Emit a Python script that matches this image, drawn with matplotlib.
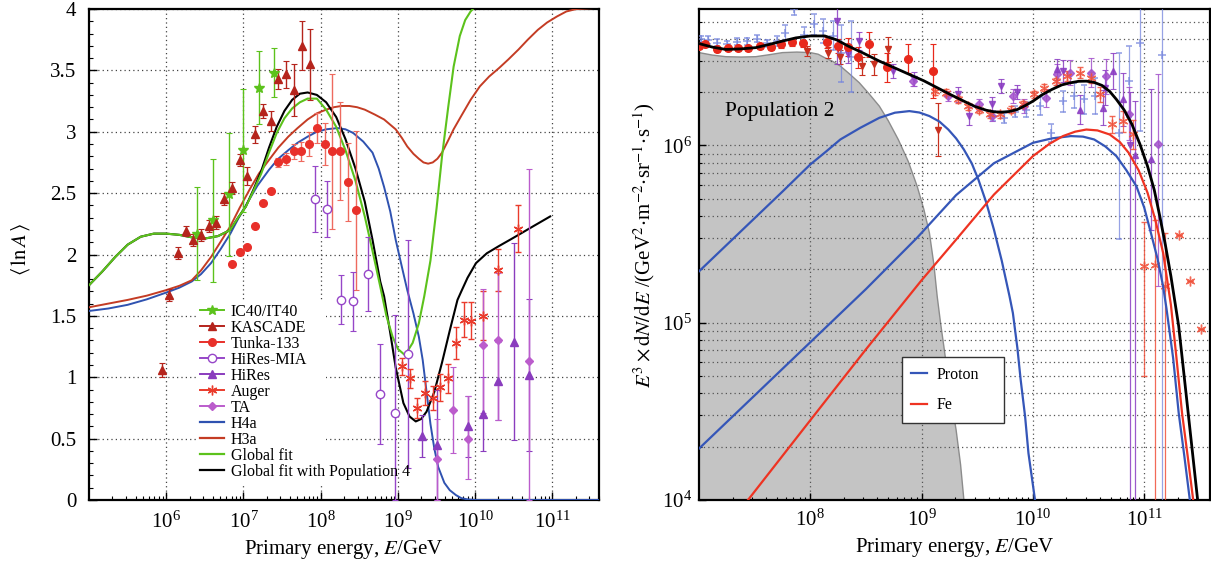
import numpy as np
import matplotlib
matplotlib.use('Agg')
import matplotlib.pyplot as plt
from matplotlib.lines import Line2D
from matplotlib.patches import Rectangle
from matplotlib.ticker import LogLocator, MultipleLocator, NullFormatter

plt.rcParams['font.family'] = ['Liberation Serif', 'DejaVu Serif']
plt.rcParams['mathtext.fontset'] = 'stix'

# ---------------- left panel: <ln A> vs log10(E/GeV) ----------------
ic_x = [6.40, 6.60, 6.81, 7.00, 7.20, 7.40]
ic_y = [2.17, 2.28, 2.49, 2.85, 3.36, 3.48]
ic_e = [0.38, 0.50, 0.50, 0.50, 0.30, 0.20]

kas_x = [5.95, 6.04, 6.15, 6.25, 6.35, 6.45, 6.55, 6.65, 6.75, 6.85, 6.95, 7.05, 7.15, 7.25, 7.35, 7.45, 7.55, 7.65, 7.76, 7.86]
kas_y = [1.06, 1.67, 2.01, 2.19, 2.12, 2.16, 2.23, 2.26, 2.45, 2.54, 2.77, 2.64, 2.98, 3.17, 3.09, 3.43, 3.47, 3.34, 3.70, 3.55]
kas_e = [0.06, 0.05, 0.05, 0.04, 0.05, 0.05, 0.05, 0.05, 0.05, 0.05, 0.05, 0.07, 0.07, 0.06, 0.08, 0.08, 0.11, 0.21, 0.20, 0.29]

tunka_x = [6.85, 6.95, 7.05, 7.15, 7.25, 7.35, 7.45, 7.55, 7.65, 7.75, 7.85, 7.95, 8.05, 8.15, 8.25, 8.35, 8.45]
tunka_y = [1.92, 2.02, 2.06, 2.23, 2.42, 2.52, 2.75, 2.78, 2.84, 2.84, 2.90, 3.03, 2.90, 2.84, 2.84, 2.59, 2.36]
tunka_e = [0.01, 0.01, 0.01, 0.01, 0.01, 0.01, 0.04, 0.05, 0.06, 0.08, 0.10, 0.12, 0.17, 0.63, 0.40, 0.32, 0.65]

mia_x = [7.93, 8.08, 8.26, 8.42, 8.61, 8.77, 8.96, 9.13]
mia_y = [2.45, 2.37, 1.63, 1.62, 1.84, 0.86, 0.71, 1.19]
mia_lo = [0.27, 0.23, 0.20, 0.24, 0.30, 0.40, 0.71, 0.93]
mia_hi = [0.27, 0.23, 0.20, 0.24, 0.30, 0.41, 0.80, 0.93]

hires_x = [9.31, 9.51, 9.91, 10.10, 10.30, 10.50, 10.70]
hires_y = [0.52, 0.45, 0.60, 0.70, 0.97, 1.29, 1.02]
hires_e = [0.17, 0.45, 0.25, 0.30, 0.32, 0.80, 0.62]

auger_x = [9.05, 9.15, 9.25, 9.35, 9.45, 9.55, 9.65, 9.75, 9.85, 9.95, 10.10, 10.30, 10.55]
auger_y = [1.09, 0.99, 0.75, 0.87, 0.83, 0.92, 0.99, 1.28, 1.47, 1.46, 1.50, 1.875, 2.21]
auger_e = [0.07, 0.08, 0.08, 0.10, 0.10, 0.11, 0.12, 0.13, 0.14, 0.15, 0.20, 0.17, 0.19]

ta_x = [9.51, 9.71, 9.91, 10.10, 10.30, 10.70]
ta_y = [0.33, 0.73, 0.50, 1.26, 1.30, 1.13]
ta_lo = [0.33, 0.35, 0.33, 0.55, 0.65, 1.13]
ta_hi = [0.33, 0.35, 0.35, 0.46, 0.55, 1.57]

h4a_x = [5.0, 5.25, 5.5, 5.75, 6.0, 6.17, 6.33, 6.45, 6.58, 6.7, 6.83, 6.93, 7.03, 7.18, 7.33, 7.45, 7.58, 7.7, 7.83, 7.95,
         8.07, 8.22, 8.32, 8.42, 8.55, 8.67, 8.75, 8.82, 8.9, 8.97, 9.05, 9.12, 9.2, 9.27, 9.32, 9.37, 9.42, 9.47, 9.52,
         9.6, 9.67, 9.75, 9.82, 9.9, 10.0, 11.6]
h4a_y = [1.54, 1.56, 1.59, 1.635, 1.69, 1.73, 1.78, 1.84, 1.93, 2.04, 2.17, 2.29, 2.40, 2.56, 2.69, 2.78, 2.85, 2.91, 2.96, 3.0,
         3.02, 3.03, 3.02, 2.99, 2.92, 2.83, 2.70, 2.55, 2.35, 2.12, 1.90, 1.71, 1.52, 1.33, 1.14, 0.88, 0.62, 0.42, 0.27,
         0.14, 0.08, 0.04, 0.015, 0.005, 0.0, 0.0]

h3a_x = [5.0, 5.25, 5.5, 5.75, 6.0, 6.17, 6.33, 6.45, 6.58, 6.7, 6.83, 6.95, 7.08, 7.2, 7.33, 7.45, 7.58, 7.7, 7.83, 7.95,
         8.07, 8.17, 8.27, 8.37, 8.47, 8.57, 8.7, 8.82, 8.97, 9.05, 9.12, 9.2, 9.27, 9.33, 9.39, 9.45, 9.51, 9.57, 9.65,
         9.72, 9.82, 9.94, 10.06, 10.18, 10.31, 10.43, 10.56, 10.68, 10.81, 10.93, 11.06, 11.18, 11.31, 11.6]
h3a_y = [1.57, 1.60, 1.63, 1.665, 1.71, 1.745, 1.79, 1.87, 1.98, 2.10, 2.23, 2.38, 2.53, 2.66, 2.77, 2.87, 2.96, 3.03, 3.10, 3.15,
         3.18, 3.20, 3.21, 3.21, 3.20, 3.18, 3.14, 3.10, 3.02, 2.95, 2.88, 2.82, 2.78, 2.75, 2.74, 2.75, 2.78, 2.83, 2.93,
         3.02, 3.13, 3.26, 3.37, 3.45, 3.52, 3.59, 3.67, 3.75, 3.83, 3.89, 3.94, 3.98, 4.0, 4.01]

gfit_x = [5.0, 5.17, 5.34, 5.5, 5.67, 5.84, 6.0, 6.17, 6.33, 6.5, 6.67, 6.83, 6.93, 7.03, 7.13, 7.23, 7.33, 7.43, 7.53, 7.63,
          7.73, 7.83, 7.95, 8.07, 8.2, 8.32, 8.45, 8.57, 8.67, 8.77, 8.85, 8.93, 9.0, 9.09, 9.19, 9.27, 9.34, 9.42, 9.5,
          9.57, 9.65, 9.72, 9.8, 9.87, 9.94, 10.0]
gfit_y = [1.75, 1.86, 1.98, 2.08, 2.145, 2.17, 2.17, 2.16, 2.14, 2.13, 2.15, 2.20, 2.30, 2.39, 2.52, 2.66, 2.83, 2.99, 3.11, 3.19,
          3.24, 3.27, 3.27, 3.18, 3.04, 2.85, 2.60, 2.31, 2.03, 1.74, 1.50, 1.33, 1.23, 1.18, 1.28, 1.44, 1.66, 1.95, 2.38,
          2.80, 3.20, 3.53, 3.78, 3.91, 3.98, 4.02]

gpop4_x = [5.0, 5.17, 5.34, 5.5, 5.67, 5.84, 6.0, 6.17, 6.33, 6.5, 6.67, 6.83, 6.93, 7.03, 7.13, 7.23, 7.33, 7.43, 7.53, 7.63,
           7.73, 7.83, 7.95, 8.07, 8.2, 8.32, 8.45, 8.57, 8.67, 8.77, 8.82, 8.9, 8.97, 9.07, 9.15, 9.23, 9.3, 9.37, 9.47,
           9.57, 9.67, 9.77, 9.82, 9.9, 10.01, 10.15, 10.31, 10.45, 10.56, 10.75, 10.97]
gpop4_y = [1.75, 1.86, 1.98, 2.08, 2.145, 2.17, 2.17, 2.16, 2.14, 2.13, 2.15, 2.20, 2.30, 2.39, 2.53, 2.68, 2.87, 3.04, 3.17, 3.26,
           3.31, 3.32, 3.30, 3.24, 3.12, 2.94, 2.70, 2.43, 2.12, 1.78, 1.66, 1.36, 1.08, 0.79, 0.68, 0.64, 0.66, 0.72, 0.88,
           1.12, 1.38, 1.63, 1.70, 1.81, 1.93, 2.01, 2.07, 2.12, 2.16, 2.23, 2.31]

# ---------------- right panel: log10(E^3 dN/dE) vs log10(E/GeV) ----------------
tot_x = [7.0, 7.12, 7.24, 7.38, 7.51, 7.63, 7.75, 7.87, 8.0, 8.13, 8.24, 8.34, 8.48, 8.62, 8.75, 8.89, 9.02, 9.14, 9.26,
         9.38, 9.48, 9.58, 9.65, 9.72, 9.79, 9.86, 9.93, 10.0, 10.08, 10.17, 10.26, 10.34, 10.41, 10.48, 10.55, 10.62,
         10.69, 10.75, 10.82, 10.89, 10.96, 11.03, 11.09, 11.14, 11.19, 11.24, 11.31, 11.39, 11.48, 11.5]
tot_y = [6.575, 6.555, 6.542, 6.545, 6.552, 6.57, 6.589, 6.607, 6.618, 6.618, 6.595, 6.561, 6.52, 6.476, 6.44, 6.401, 6.365,
         6.326, 6.287, 6.25, 6.22, 6.199, 6.19, 6.188, 6.192, 6.203, 6.225, 6.25, 6.285, 6.316, 6.342, 6.354, 6.362, 6.363,
         6.356, 6.339, 6.305, 6.26, 6.2, 6.119, 6.01, 5.883, 5.75, 5.601, 5.44, 5.262, 4.98, 4.52, 4.0, 3.9]

pop2_x = [7.0, 7.12, 7.24, 7.38, 7.51, 7.63, 7.75, 7.88, 8.0, 8.07, 8.13, 8.2, 8.27, 8.35, 8.44, 8.53, 8.62, 8.7, 8.79,
          8.88, 8.96, 9.02, 9.07, 9.11, 9.14, 9.17, 9.2, 9.25, 9.31, 9.35, 9.38]
pop2_y = [6.524, 6.51, 6.501, 6.499, 6.501, 6.512, 6.524, 6.527, 6.524, 6.515, 6.495, 6.475, 6.448, 6.405, 6.354, 6.29,
          6.222, 6.14, 6.034, 5.91, 5.77, 5.64, 5.507, 5.33, 5.149, 5.0, 4.866, 4.63, 4.395, 4.2, 4.0]

p1_x = [7.0, 7.25, 7.5, 7.75, 8.0, 8.14, 8.27, 8.45, 8.62, 8.76, 8.89, 8.98, 9.07, 9.16, 9.24, 9.31, 9.38, 9.45, 9.51,
        9.58, 9.65, 9.72, 9.79, 9.82, 9.86, 9.89, 9.93, 9.96, 10.01, 10.03]
p1_y = [5.29, 5.44, 5.59, 5.74, 5.893, 5.965, 6.034, 6.10, 6.156, 6.185, 6.194, 6.186, 6.166, 6.135, 6.09, 6.04, 5.977,
        5.90, 5.808, 5.68, 5.525, 5.35, 5.149, 5.055, 4.86, 4.678, 4.47, 4.264, 4.04, 3.95]

p2_x = [7.0, 7.5, 8.0, 8.5, 8.96, 9.31, 9.65, 10.0, 10.17, 10.34, 10.45, 10.55, 10.65, 10.75, 10.84, 10.93, 11.0, 11.06,
        11.12, 11.17, 11.2, 11.26, 11.31, 11.36, 11.41, 11.43]
p2_y = [4.29, 4.59, 4.89, 5.19, 5.48, 5.72, 5.90, 6.015, 6.04, 6.053, 6.05, 6.034, 5.995, 5.94, 5.86, 5.77, 5.65, 5.507,
        5.36, 5.205, 5.08, 4.80, 4.49, 4.25, 4.0, 3.9]

fe_x = [7.44, 8.0, 8.5, 9.0, 9.31, 9.65, 10.0, 10.15, 10.27, 10.38, 10.48, 10.58, 10.69, 10.78, 10.86, 10.95, 11.03, 11.1,
        11.17, 11.24, 11.29, 11.34, 11.39, 11.44, 11.46]
fe_y = [4.0, 4.45, 4.85, 5.24, 5.469, 5.723, 5.94, 6.01, 6.053, 6.078, 6.09, 6.085, 6.062, 6.02, 5.959, 5.86, 5.733, 5.58,
        5.394, 5.10, 4.80, 4.49, 4.25, 4.0, 3.9]

# data sets: log10 E, log10 flux, error down / up in dex
bx_x = [7.02, 7.08, 7.16, 7.25, 7.34, 7.43, 7.52, 7.61, 7.70, 7.77, 7.85, 7.94, 8.03, 8.11, 8.20, 8.28, 8.37,
        9.64, 9.74, 9.84, 9.94, 10.06, 10.16, 10.27, 10.37, 10.46, 10.56, 10.77, 10.86, 10.96, 11.16]
bx_y = [6.60, 6.595, 6.58, 6.571, 6.585, 6.589, 6.603, 6.576, 6.59, 6.637, 6.768, 6.621, 6.684, 6.646, 6.62, 6.52, 6.50,
        6.166, 6.156, 6.19, 6.203, 6.222, 6.072, 6.25, 6.28, 6.26, 6.279, 6.072, 6.363, 6.58, 6.508]
bx_lo = [0.02, 0.02, 0.02, 0.02, 0.02, 0.02, 0.02, 0.02, 0.03, 0.04, 0.03, 0.05, 0.06, 0.07, 0.08, 0.16, 0.2,
         0.03, 0.03, 0.03, 0.04, 0.05, 0.05, 0.06, 0.07, 0.08, 0.1, 0.6, 0.2, 0.5, 3.0]
bx_hi = [0.02, 0.02, 0.02, 0.02, 0.02, 0.02, 0.02, 0.02, 0.03, 0.04, 0.03, 0.05, 0.06, 0.07, 0.08, 0.16, 0.2,
         0.03, 0.03, 0.03, 0.04, 0.05, 0.05, 0.06, 0.07, 0.08, 0.1, 0.45, 0.2, 0.2, 0.3]

rc_x = [7.0, 7.05, 7.16, 7.26, 7.35, 7.44, 7.55, 7.65, 7.74, 7.84, 7.93, 8.15, 8.25, 8.34, 8.43, 8.53, 8.69, 8.88, 9.10]
rc_y = [6.56, 6.571, 6.542, 6.548, 6.548, 6.548, 6.559, 6.554, 6.571, 6.582, 6.576, 6.582, 6.559, 6.554, 6.497, 6.571,
        6.44, 6.49, 6.42]
rc_e = [0.015, 0.015, 0.015, 0.015, 0.015, 0.015, 0.015, 0.015, 0.02, 0.02, 0.02, 0.03, 0.04, 0.05, 0.06, 0.07, 0.08,
        0.08, 0.15]

rv_x = [7.97, 8.16, 8.27, 8.46, 8.57, 8.70, 9.15]
rv_y = [6.533, 6.524, 6.50, 6.448, 6.458, 6.542, 6.09]
rv_e = [0.03, 0.03, 0.04, 0.05, 0.06, 0.07, 0.15]

pv_x = [8.24, 8.34, 8.44, 8.74, 8.93, 9.33, 9.43, 9.63, 9.71, 9.86, 10.27, 10.65, 10.87]
pv_y = [6.70, 6.514, 6.589, 6.42, 6.373, 6.288, 6.166, 6.232, 6.335, 6.30, 6.42, 6.326, 6.0]
pv_lo = [0.24, 0.05, 0.05, 0.04, 0.04, 0.04, 0.05, 0.04, 0.04, 0.04, 0.06, 0.1, 3.0]
pv_hi = [0.08, 0.05, 0.05, 0.04, 0.04, 0.04, 0.05, 0.04, 0.04, 0.04, 0.06, 0.1, 0.3]

pd_x = [8.92, 9.24, 9.52, 9.63, 9.82, 9.92, 10.12, 10.22, 10.33, 10.52, 10.66, 10.86, 11.12]
pd_y = [6.363, 6.279, 6.232, 6.166, 6.279, 6.222, 6.269, 6.401, 6.411, 6.411, 6.39, 6.18, 6.006]
pd_lo = [0.03, 0.03, 0.03, 0.03, 0.04, 0.04, 0.05, 0.06, 0.07, 0.08, 0.1, 0.15, 0.8]
pd_hi = [0.03, 0.03, 0.03, 0.03, 0.04, 0.04, 0.05, 0.06, 0.07, 0.08, 0.1, 0.15, 0.4]

pu_x = [10.22, 10.42, 10.63, 10.72, 10.81, 10.92, 11.06]
pu_y = [6.43, 6.203, 6.213, 6.42, 6.26, 5.949, 5.921]
pu_lo = [0.06, 0.08, 0.1, 0.1, 0.15, 3.0, 0.4]
pu_hi = [0.06, 0.08, 0.1, 0.1, 0.15, 0.3, 0.4]

au_x = [9.12, 9.22, 9.33, 9.42, 9.52, 9.61, 9.70, 9.80, 9.91, 10.01, 10.10, 10.21, 10.31, 10.42, 10.52, 10.60, 10.71,
        10.81, 10.90, 11.00, 11.10, 11.19, 11.31, 11.41, 11.51]
au_y = [6.307, 6.298, 6.26, 6.222, 6.203, 6.175, 6.175, 6.203, 6.232, 6.288, 6.326, 6.363, 6.392, 6.411, 6.383, 6.288,
        6.119, 6.137, 6.062, 5.318, 5.328, 5.209, 5.497, 5.233, 4.964]
au_lo = [0.02, 0.02, 0.02, 0.02, 0.02, 0.02, 0.02, 0.02, 0.02, 0.02, 0.02, 0.02, 0.03, 0.03, 0.03, 0.04, 0.05, 0.06,
         0.08, 0.62, 3.0, 3.0, 0.0, 0.0, 0.0]
au_hi = [0.02, 0.02, 0.02, 0.02, 0.02, 0.02, 0.02, 0.02, 0.02, 0.02, 0.02, 0.02, 0.03, 0.03, 0.03, 0.04, 0.05, 0.06,
         0.08, 0.25, 0.25, 0.3, 0.0, 0.0, 0.0]

GREEN = '#5cc21c'
KAS = '#b5241c'
TUNKA = '#e8302a'
MIA = '#9646c8'
HIRES = '#8a3cbe'
AUGER = '#ea3b2c'
TA = '#bb5ccc'
H4A = '#2f52b0'
H3A = '#c43c24'
ASTER = (6, 2, 0)


def ebar(ax, x, y, lo, hi, **kw):
    ax.errorbar(x, y, yerr=[np.asarray(lo), np.asarray(hi)], ls='none', capsize=2, elinewidth=1.0, capthick=0.8, **kw)


def lbar(ax, lx, ly, lo, hi, **kw):
    E = 10 ** np.asarray(lx); F = 10 ** np.asarray(ly)
    ax.errorbar(E, F, yerr=[F - F * 10 ** (-np.asarray(lo)), F * 10 ** np.asarray(hi) - F], ls='none',
                capsize=2, elinewidth=0.9, capthick=0.8, **kw)


fig = plt.figure(figsize=(12.11, 5.69), dpi=100)
ax = fig.add_axes([89 / 1211, 1 - 500 / 569, 510 / 1211, 491 / 569])
ax2 = fig.add_axes([699 / 1211, 1 - 500 / 569, 511 / 1211, 491 / 569])

E = lambda v: 10 ** np.asarray(v)

# ---- left
ax.plot(E(h4a_x), h4a_y, color=H4A, lw=1.4, zorder=3)
ax.plot(E(h3a_x), h3a_y, color=H3A, lw=1.4, zorder=3)
ax.plot(E(gpop4_x), gpop4_y, color='black', lw=1.5, zorder=3)
ax.plot(E(gfit_x), gfit_y, color=GREEN, lw=1.5, zorder=3)

ebar(ax, E(ic_x), ic_y, ic_e, ic_e, marker='*', color=GREEN, ms=7, zorder=4)
ebar(ax, E(kas_x), kas_y, kas_e, kas_e, marker='^', color=KAS, ms=5.5, zorder=4)
ebar(ax, E(tunka_x), tunka_y, tunka_e, tunka_e, marker='o', color=TUNKA, ms=5.5, ecolor='#ee6a5f', zorder=4)
ebar(ax, E(mia_x), mia_y, mia_lo, mia_hi, marker='o', color=MIA, mfc='white', ms=6, zorder=4)
ebar(ax, E(hires_x), hires_y, hires_e, hires_e, marker='^', color=HIRES, ms=5.5, zorder=4)
ebar(ax, E(auger_x), auger_y, auger_e, auger_e, marker=ASTER, color=AUGER, ms=7, mew=1.0, zorder=4)
ebar(ax, E(ta_x), ta_y, ta_lo, ta_hi, marker='D', color=TA, ms=4.5, zorder=4)

ax.set_xscale('log')
ax.set_xlim(1e5, 4e11)
ax.set_ylim(0, 4)
ax.set_xticks([1e6, 1e7, 1e8, 1e9, 1e10, 1e11])
ax.xaxis.set_minor_locator(LogLocator(base=10, subs=np.arange(2, 10), numticks=20))
ax.xaxis.set_minor_formatter(NullFormatter())
ax.set_yticks([0, 0.5, 1, 1.5, 2, 2.5, 3, 3.5, 4])
ax.set_yticklabels(['0', '0.5', '1', '1.5', '2', '2.5', '3', '3.5', '4'])
ax.yaxis.set_minor_locator(MultipleLocator(0.1))
ax.tick_params(which='both', direction='in', labelsize=15)
ax.tick_params(which='major', length=6, width=1.0)
ax.tick_params(which='minor', length=3, width=0.8)
ax.tick_params(axis='y', pad=9)
ax.tick_params(axis='x', pad=8)
ax.grid(True, which='major', ls=(0, (1, 2.5)), color='#444444', lw=0.9)
for s in ax.spines.values():
    s.set_linewidth(1.6)
ax.set_xlabel(r'Primary energy, $E$/GeV', fontsize=15)
ax.set_ylabel(r'$\langle\,\ln A\,\rangle$', fontsize=15)
ax.yaxis.set_label_coords(-0.112, 0.51)
ax.add_patch(Rectangle((0.214, 0.035), 0.25, 0.37, transform=ax.transAxes, facecolor='white',
                       edgecolor='none', zorder=2.5))
handles = [
    Line2D([], [], color=GREEN, marker='*', ms=7, lw=1.4),
    Line2D([], [], color=KAS, marker='^', ms=5.5, lw=1.4),
    Line2D([], [], color=TUNKA, marker='o', ms=5.5, lw=1.4),
    Line2D([], [], color=MIA, marker='o', mfc='white', ms=6, lw=1.4),
    Line2D([], [], color=HIRES, marker='^', ms=5.5, lw=1.4),
    Line2D([], [], color=AUGER, marker=ASTER, ms=7, lw=1.4),
    Line2D([], [], color=TA, marker='D', ms=4.5, lw=1.4),
    Line2D([], [], color=H4A, lw=1.6),
    Line2D([], [], color=H3A, lw=1.6),
    Line2D([], [], color=GREEN, lw=1.6),
    Line2D([], [], color='black', lw=1.6),
]
labels = ['IC40/IT40', 'KASCADE', 'Tunka-133', 'HiRes-MIA', 'HiRes', 'Auger', 'TA', 'H4a', 'H3a',
          'Global fit', 'Global fit with Population 4']
leg = ax.legend(handles, labels, loc='upper left', bbox_to_anchor=(0.218, 0.40), frameon=False, fontsize=11.5,
                labelspacing=0.0, handlelength=1.5, handletextpad=0.4, borderpad=0, borderaxespad=0)
leg.set_zorder(5)

# ---- right
ax2.fill_between(E(pop2_x), 1e3, E(pop2_y), facecolor='#c4c4c4', edgecolor='#8c8c8c', lw=1.0, zorder=1)
ax2.text(1.71e7, 10 ** 6.19, 'Population 2', fontsize=15.5, va='center', ha='left', zorder=2)

lbar(ax2, bx_x, bx_y, bx_lo, bx_hi, marker='+', color='#7585dd', ms=6, mew=1.2, alpha=0.75, zorder=3)
lbar(ax2, rv_x, rv_y, rv_e, rv_e, marker='v', color='#c8301f', ms=5, zorder=3)
lbar(ax2, pv_x, pv_y, pv_lo, pv_hi, marker='v', color='#8a3cc2', ms=5, alpha=0.85, zorder=3)
lbar(ax2, pd_x, pd_y, pd_lo, pd_hi, marker='D', color='#a352cc', ms=4.5, alpha=0.85, zorder=3)
lbar(ax2, pu_x, pu_y, pu_lo, pu_hi, marker='^', color='#8a3cc2', ms=5, alpha=0.85, zorder=3)
lbar(ax2, au_x, au_y, au_lo, au_hi, marker=ASTER, color='#f0503a', ms=7, mew=1.0, alpha=0.85, zorder=3)
lbar(ax2, rc_x, rc_y, rc_e, rc_e, marker='o', color='#e8291c', ms=5.5, zorder=3)

ax2.plot(E(p1_x), E(p1_y), color='#3556b8', lw=1.6, zorder=4)
ax2.plot(E(p2_x), E(p2_y), color='#3556b8', lw=1.6, zorder=4, label='Proton')
ax2.plot(E(fe_x), E(fe_y), color='#ee3322', lw=1.6, zorder=4, label='Fe')
ax2.plot(E(tot_x), E(tot_y), color='black', lw=2.0, zorder=5)

ax2.set_xscale('log')
ax2.set_yscale('log')
ax2.set_xlim(1e7, 3.9e11)
ax2.set_ylim(1e4, 10 ** 6.77)
ax2.set_xticks([1e8, 1e9, 1e10, 1e11])
ax2.xaxis.set_minor_locator(LogLocator(base=10, subs=np.arange(2, 10), numticks=20))
ax2.xaxis.set_minor_formatter(NullFormatter())
ax2.set_yticks([1e4, 1e5, 1e6])
ax2.yaxis.set_minor_locator(LogLocator(base=10, subs=np.arange(2, 10), numticks=20))
ax2.yaxis.set_minor_formatter(NullFormatter())
ax2.tick_params(which='both', direction='in', labelsize=15)
ax2.tick_params(which='major', length=5, width=1.0)
ax2.tick_params(which='minor', length=2.5, width=0.8)
ax2.tick_params(axis='y', pad=5)
ax2.tick_params(axis='x', pad=7)
ax2.grid(True, which='major', axis='x', ls=(0, (1, 2.5)), color='#555555', lw=0.9)
ax2.grid(True, which='both', axis='y', ls=(0, (1, 2.5)), color='#555555', lw=0.9)
for s in ax2.spines.values():
    s.set_linewidth(1.6)
ax2.set_xlabel(r'Primary energy, $E$/GeV', fontsize=15)
ax2.set_ylabel(r'$E^3\times\mathrm{d}N/\mathrm{d}E$ /(GeV$^2\!\cdot\!$m$^{-2}\!\cdot\!$sr$^{-1}\!\cdot\!$s$^{-1}$)',
               fontsize=15)
ax2.yaxis.set_label_coords(-0.083, 0.52)
ax2.legend(loc='lower left', bbox_to_anchor=(0.397, 0.157, 0.2, 0.13), mode='expand', fontsize=11.5,
           fancybox=False, edgecolor='#333333', framealpha=1, labelspacing=0.9, handlelength=1.0,
           handletextpad=0.6, borderpad=0.6, borderaxespad=0)

fig.savefig('out.png', dpi=100)
